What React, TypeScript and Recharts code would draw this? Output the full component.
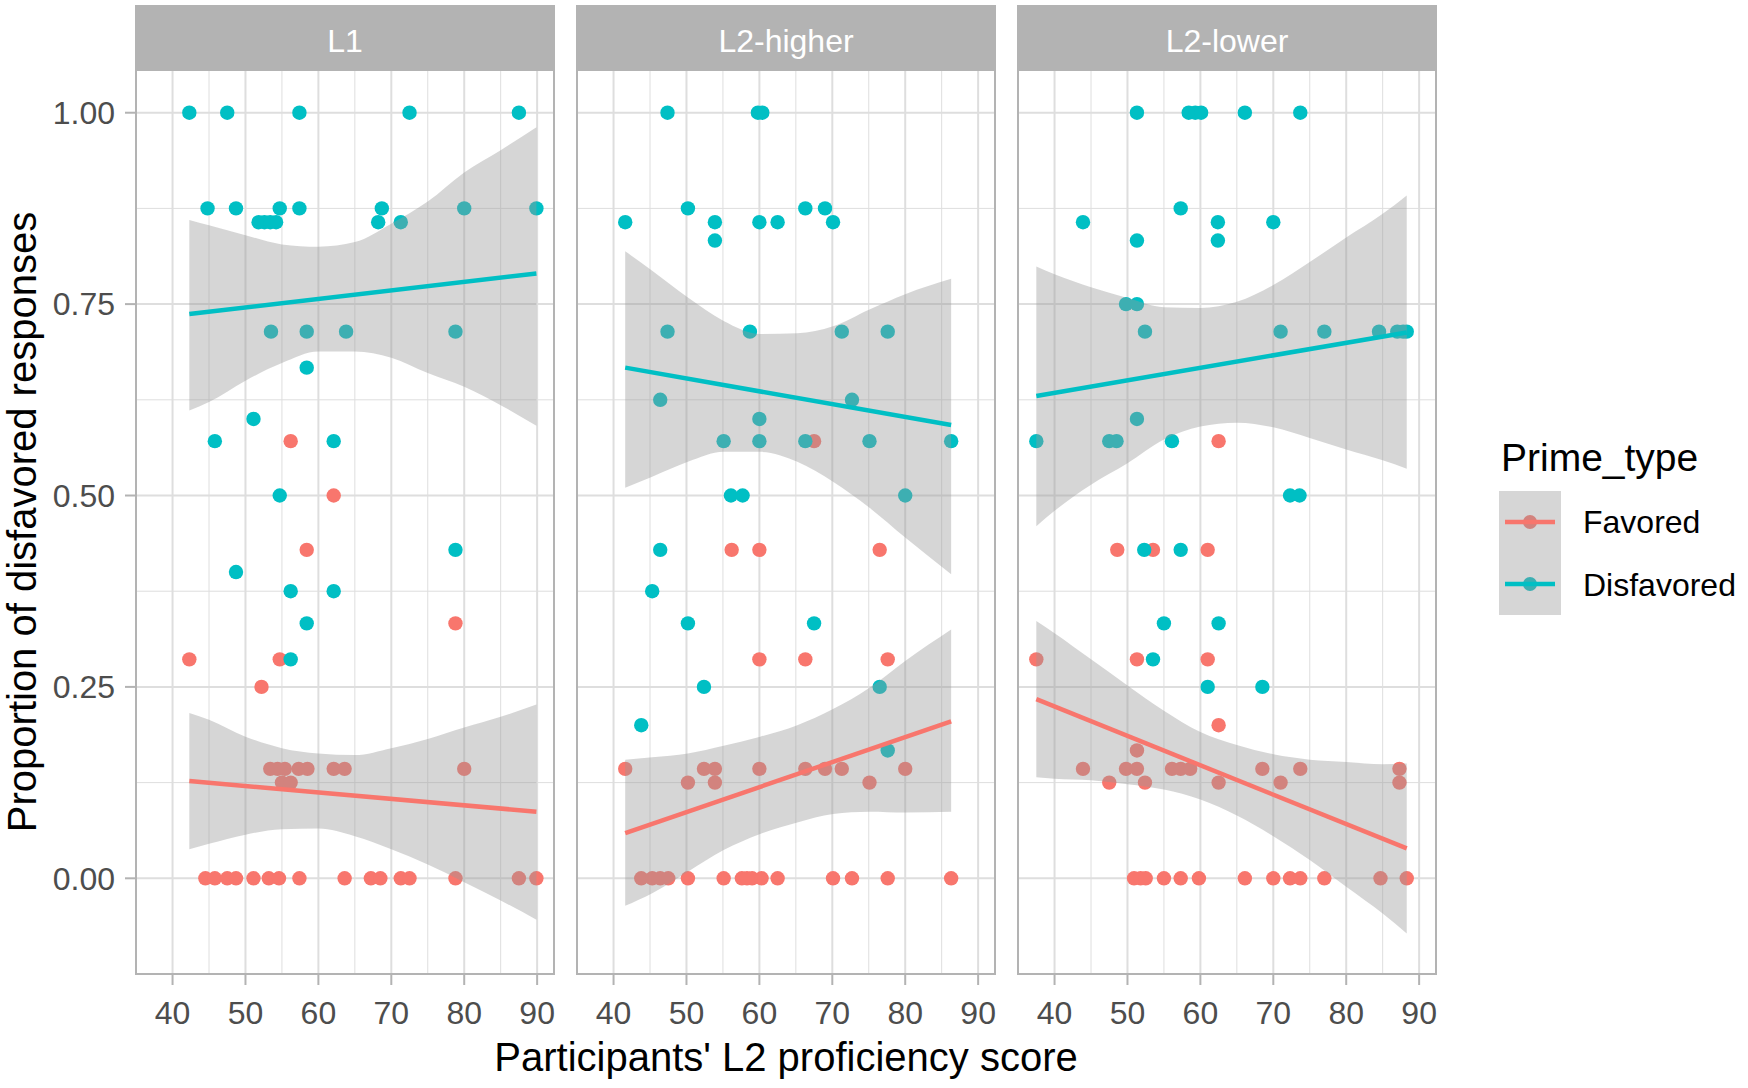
import { ComposedChart, Scatter, Line, Area, XAxis, YAxis, CartesianGrid } from 'recharts'

type Pt = [number, number]
type Band = [number, number, number]

const FAV = '#F8766D'
const DIS = '#00BFC4'
const FONT = '"Liberation Sans", Arial, sans-serif'

const xDomain: [number, number] = [34.85, 92.45]
const yDomain: [number, number] = [-0.1263, 1.0571]
const xTicks = [40, 50, 60, 70, 80, 90]
const xMinor = [45, 55, 65, 75, 85]
const yTicks = [0, 0.25, 0.5, 0.75, 1]
const yMinor = [0.125, 0.375, 0.625, 0.875]

// L1
const l1Fav: Pt[] = [
  [42.3, 0.286], [54.7, 0.286], [52.2, 0.25], [56.2, 0.571], [62.1, 0.5], [58.4, 0.429], [78.8, 0.333],
  [53.4, 0.143], [54.4, 0.143], [55.4, 0.143], [57.3, 0.143], [58.5, 0.143], [62.1, 0.143], [63.6, 0.143], [80, 0.143],
  [55.0, 0.125], [56.2, 0.125],
  [44.5, 0], [45.8, 0], [47.5, 0], [48.7, 0], [51.1, 0], [53.2, 0], [54.6, 0], [57.4, 0], [63.6, 0],
  [67.2, 0], [68.5, 0], [71.3, 0], [72.5, 0], [78.8, 0], [87.5, 0], [89.9, 0],
]
const l1Dis: Pt[] = [
  [42.3, 1], [47.5, 1], [57.4, 1], [72.5, 1], [87.5, 1],
  [44.8, 0.875], [48.7, 0.875], [54.7, 0.875], [57.4, 0.875], [68.7, 0.875], [80.0, 0.875], [89.9, 0.875],
  [51.8, 0.857], [52.6, 0.857], [53.4, 0.857], [54.2, 0.857], [68.2, 0.857], [71.3, 0.857],
  [53.5, 0.714], [58.4, 0.714], [63.8, 0.714], [78.8, 0.714],
  [58.4, 0.667], [51.1, 0.6], [45.8, 0.571], [62.1, 0.571], [54.7, 0.5], [78.8, 0.429], [48.7, 0.4],
  [56.2, 0.375], [62.1, 0.375], [58.4, 0.333], [56.2, 0.286],
]
const l1FavFit: Pt[] = [[42.3, 0.127], [89.9, 0.087]]
const l1DisFit: Pt[] = [[42.3, 0.737], [89.9, 0.79]]
const l1FavBand: Band[] = [
  [42.3, 0.038, 0.216], [45, 0.045, 0.207], [50, 0.057, 0.185], [55, 0.064, 0.17], [60, 0.065, 0.163],
  [65, 0.055, 0.161], [70, 0.038, 0.17], [75, 0.018, 0.182], [80, -0.005, 0.197], [85, -0.029, 0.211], [89.9, -0.054, 0.227],
]
const l1DisBand: Band[] = [
  [42.3, 0.611, 0.86], [45, 0.622, 0.853], [50, 0.65, 0.84], [55, 0.673, 0.828], [60, 0.688, 0.825],
  [65, 0.688, 0.831], [70, 0.68, 0.855], [75, 0.66, 0.884], [80, 0.642, 0.922], [85, 0.618, 0.951], [89.9, 0.591, 0.981],
]

// L2-higher
const l2hFav: Pt[] = [
  [67.5, 0.571], [56.2, 0.429], [60.0, 0.429], [76.5, 0.429], [60.0, 0.286], [66.3, 0.286], [77.6, 0.286],
  [41.6, 0.143], [52.4, 0.143], [53.9, 0.143], [60.0, 0.143], [66.3, 0.143], [69.0, 0.143], [71.3, 0.143], [80.0, 0.143],
  [50.2, 0.125], [53.9, 0.125], [75.1, 0.125],
  [43.8, 0], [45.3, 0], [46.4, 0], [47.5, 0], [50.2, 0], [55.1, 0], [57.6, 0], [58.3, 0], [59.0, 0], [60.3, 0],
  [62.5, 0], [70.1, 0], [72.7, 0], [77.6, 0], [86.3, 0],
]
const l2hDis: Pt[] = [
  [47.4, 1], [59.8, 1], [60.4, 1], [50.2, 0.875], [66.3, 0.875], [69.0, 0.875],
  [41.6, 0.857], [53.9, 0.857], [60.0, 0.857], [62.5, 0.857], [70.1, 0.857], [53.9, 0.833],
  [47.4, 0.714], [58.7, 0.714], [71.3, 0.714], [77.6, 0.714], [46.4, 0.625], [72.7, 0.625], [60.0, 0.6],
  [55.1, 0.571], [60.0, 0.571], [66.3, 0.571], [75.1, 0.571], [86.3, 0.571],
  [56.1, 0.5], [57.7, 0.5], [80.0, 0.5], [46.4, 0.429], [45.3, 0.375], [50.2, 0.333], [67.5, 0.333],
  [52.4, 0.25], [76.5, 0.25], [43.8, 0.2], [77.6, 0.167],
]
const l2hFavFit: Pt[] = [[41.6, 0.059], [86.3, 0.205]]
const l2hDisFit: Pt[] = [[41.6, 0.667], [86.3, 0.592]]
const l2hFavBand: Band[] = [
  [41.6, -0.036, 0.155], [45.3, -0.0195, 0.158], [50.2, 0.0087, 0.163], [55.1, 0.0369, 0.173], [60.1, 0.058, 0.185],
  [65.2, 0.073, 0.2], [70.1, 0.084, 0.221], [75.1, 0.087, 0.249], [80, 0.086, 0.284], [86.3, 0.087, 0.325],
]
const l2hDisBand: Band[] = [
  [41.6, 0.51, 0.819], [45.3, 0.5245, 0.7935], [50.2, 0.544, 0.7585], [55.1, 0.557, 0.728], [60.1, 0.557, 0.711],
  [65.2, 0.544, 0.712], [70.1, 0.518, 0.721], [75.1, 0.484, 0.743], [80, 0.445, 0.763], [86.3, 0.397, 0.783],
]

// L2-lower
const l2lFav: Pt[] = [
  [62.5, 0.571], [48.6, 0.429], [53.5, 0.429], [61.0, 0.429], [37.5, 0.286], [51.3, 0.286], [61.0, 0.286],
  [62.5, 0.2], [51.3, 0.167],
  [43.9, 0.143], [49.8, 0.143], [51.3, 0.143], [56.1, 0.143], [57.3, 0.143], [58.6, 0.143], [68.5, 0.143], [73.7, 0.143], [87.3, 0.143],
  [47.5, 0.125], [52.4, 0.125], [62.5, 0.125], [71.0, 0.125], [87.3, 0.125],
  [50.9, 0], [51.8, 0], [52.5, 0], [55.0, 0], [57.3, 0], [59.8, 0], [66.1, 0], [70.0, 0], [72.3, 0],
  [73.7, 0], [77.0, 0], [84.7, 0], [88.3, 0],
]
const l2lDis: Pt[] = [
  [51.3, 1], [58.4, 1], [59.3, 1], [60.1, 1], [66.1, 1], [73.7, 1], [57.3, 0.875],
  [43.9, 0.857], [62.4, 0.857], [70.0, 0.857], [51.3, 0.833], [62.4, 0.833], [49.8, 0.75], [51.3, 0.75],
  [52.4, 0.714], [71.0, 0.714], [77.0, 0.714], [84.5, 0.714], [87.0, 0.714], [87.8, 0.714], [88.3, 0.714],
  [51.3, 0.6], [37.5, 0.571], [47.5, 0.571], [48.5, 0.571], [56.1, 0.571], [72.3, 0.5], [73.6, 0.5],
  [52.3, 0.429], [57.3, 0.429], [55.0, 0.333], [62.5, 0.333], [53.5, 0.286], [61.0, 0.25], [68.5, 0.25],
]
const l2lFavFit: Pt[] = [[37.5, 0.234], [88.3, 0.039]]
const l2lDisFit: Pt[] = [[37.5, 0.63], [88.3, 0.713]]
const l2lFavBand: Band[] = [
  [37.5, 0.132, 0.336], [40, 0.13, 0.32], [45, 0.128, 0.286], [50, 0.123, 0.252], [55, 0.116, 0.219], [60, 0.103, 0.191],
  [65, 0.082, 0.174], [70, 0.055, 0.162], [75, 0.024, 0.155], [80, -0.011, 0.152], [85, -0.046, 0.149], [88.3, -0.072, 0.15],
]
const l2lDisBand: Band[] = [
  [37.5, 0.46, 0.799], [40, 0.48, 0.789], [45, 0.514, 0.772], [50, 0.542, 0.758], [55, 0.573, 0.746], [60, 0.59, 0.745],
  [65, 0.595, 0.753], [70, 0.589, 0.775], [75, 0.575, 0.805], [80, 0.56, 0.837], [85, 0.546, 0.868], [88.3, 0.535, 0.892],
]

const panels = [
  { name: 'L1', left: 135, fav: l1Fav, dis: l1Dis, favFit: l1FavFit, disFit: l1DisFit, favBand: l1FavBand, disBand: l1DisBand },
  { name: 'L2-higher', left: 576, fav: l2hFav, dis: l2hDis, favFit: l2hFavFit, disFit: l2hDisFit, favBand: l2hFavBand, disBand: l2hDisBand },
  { name: 'L2-lower', left: 1017, fav: l2lFav, dis: l2lDis, favFit: l2lFavFit, disFit: l2lDisFit, favBand: l2lFavBand, disBand: l2lDisBand },
]

const PANEL_W = 420
const PANEL_TOP = 69
const PANEL_H = 906
const Y_AXIS_W = 135
const X_AXIS_H = 80

const toXY = (pts: Pt[]) => pts.map(([x, y]) => ({ x, y }))
const toBand = (b: Band[]) => b.map(([x, lo, hi]) => ({ x, band: [lo, hi] }))

const dot = (color: string) => (props: any) => (
  <circle cx={props.cx} cy={props.cy} r={7.2} fill={color} />
)

const tickStyle = { fill: '#4D4D4D', fontSize: 32, fontFamily: FONT }

function Panel({ p, showY }: { p: (typeof panels)[number]; showY: boolean }) {
  const w = PANEL_W + (showY ? Y_AXIS_W : 0)
  return (
    <div style={{ position: 'absolute', left: p.left - (showY ? Y_AXIS_W : 0), top: PANEL_TOP }}>
      <ComposedChart width={w} height={PANEL_H + X_AXIS_H} margin={{ top: 0, right: 0, bottom: 0, left: 0 }}>
        <CartesianGrid horizontalValues={yMinor} verticalValues={xMinor} stroke="#DEDEDE" strokeWidth={1} />
        <CartesianGrid horizontalValues={yTicks} verticalValues={xTicks} stroke="#DEDEDE" strokeWidth={2} />
        <XAxis
          type="number"
          dataKey="x"
          domain={xDomain}
          ticks={xTicks}
          allowDataOverflow
          height={X_AXIS_H}
          tick={tickStyle}
          tickSize={10}
          tickMargin={16}
          tickLine={{ stroke: '#B3B3B3', strokeWidth: 2 }}
          axisLine={false}
        />
        <YAxis
          type="number"
          dataKey="y"
          domain={yDomain}
          ticks={yTicks}
          allowDataOverflow
          hide={!showY}
          width={Y_AXIS_W}
          tick={tickStyle}
          tickSize={10}
          tickMargin={10}
          tickLine={{ stroke: '#B3B3B3', strokeWidth: 2 }}
          axisLine={false}
          tickFormatter={(v: number) => v.toFixed(2)}
        />
        <Scatter data={toXY(p.fav)} dataKey="y" fill={FAV} shape={dot(FAV)} isAnimationActive={false} zIndex={50} />
        <Scatter data={toXY(p.dis)} dataKey="y" fill={DIS} shape={dot(DIS)} isAnimationActive={false} zIndex={50} />
        <Area data={toBand(p.favBand)} dataKey="band" type="monotone" fill="#999999" fillOpacity={0.4} stroke="none" isAnimationActive={false} />
        <Line data={toXY(p.favFit)} dataKey="y" stroke={FAV} strokeWidth={4.5} dot={false} isAnimationActive={false} />
        <Area data={toBand(p.disBand)} dataKey="band" type="monotone" fill="#999999" fillOpacity={0.4} stroke="none" isAnimationActive={false} />
        <Line data={toXY(p.disFit)} dataKey="y" stroke={DIS} strokeWidth={4.5} dot={false} isAnimationActive={false} />
      </ComposedChart>
    </div>
  )
}

function LegendKey({ color }: { color: string }) {
  return (
    <svg width={62} height={62} style={{ display: 'block' }}>
      <circle cx={31} cy={31} r={7} fill={color} />
      <rect x={0} y={0} width={62} height={62} fill="#999999" fillOpacity={0.4} />
      <line x1={6} x2={56} y1={31} y2={31} stroke={color} strokeWidth={4.5} />
    </svg>
  )
}

export default function App() {
  return (
    <div style={{ position: 'absolute', left: 0, top: 0, width: 1748, height: 1088, background: '#fff', fontFamily: FONT, overflow: 'hidden' }}>
      {panels.map((p, i) => (
        <Panel key={p.name} p={p} showY={i === 0} />
      ))}
      {panels.map((p) => (
        <div key={p.name + '-frame'}>
          <div
            style={{
              position: 'absolute', left: p.left, top: 5, width: PANEL_W, height: PANEL_TOP - 5,
              background: '#B3B3B3', color: '#fff', fontSize: 32, display: 'flex', alignItems: 'center', justifyContent: 'center',
              paddingTop: 8, boxSizing: 'border-box',
            }}
          >
            {p.name}
          </div>
          <div
            style={{
              position: 'absolute', left: p.left, top: PANEL_TOP, width: PANEL_W, height: PANEL_H,
              border: '2px solid #B3B3B3', boxSizing: 'border-box', pointerEvents: 'none',
            }}
          />
        </div>
      ))}
      <div
        style={{
          position: 'absolute', left: 22, top: 522, transform: 'translate(-50%, -50%) rotate(-90deg)',
          whiteSpace: 'nowrap', fontSize: 40, color: '#000', lineHeight: 1,
        }}
      >
        Proportion of disfavored responses
      </div>
      <div
        style={{
          position: 'absolute', left: 786, top: 1057, transform: 'translate(-50%, -50%)',
          whiteSpace: 'nowrap', fontSize: 40, color: '#000', lineHeight: 1,
        }}
      >
        Participants' L2 proficiency score
      </div>
      <div style={{ position: 'absolute', left: 1501, top: 438, fontSize: 39, lineHeight: 1, color: '#000' }}>Prime_type</div>
      <div style={{ position: 'absolute', left: 1499, top: 491 }}>
        <LegendKey color={FAV} />
        <LegendKey color={DIS} />
      </div>
      <div style={{ position: 'absolute', left: 1583, top: 506, fontSize: 32, lineHeight: 1, color: '#000' }}>Favored</div>
      <div style={{ position: 'absolute', left: 1583, top: 569, fontSize: 32, lineHeight: 1, color: '#000' }}>Disfavored</div>
    </div>
  )
}
